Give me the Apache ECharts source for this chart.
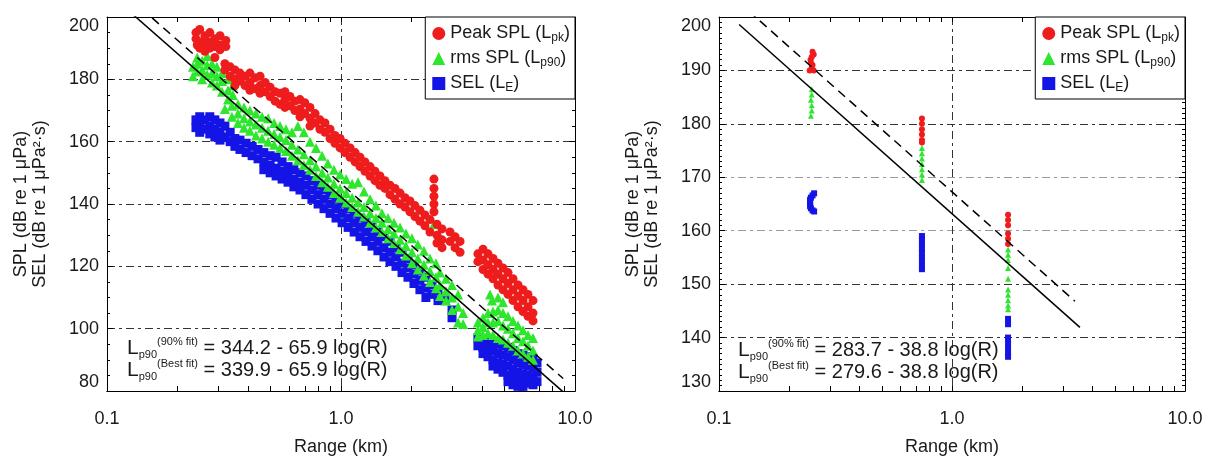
<!DOCTYPE html>
<html>
<head>
<meta charset="utf-8">
<script src="https://cdn.jsdelivr.net/npm/echarts@6/dist/echarts.min.js"></script>
<style>html,body{margin:0;padding:0;background:#fff}#c{width:1209px;height:457px}</style>
</head>
<body>
<div id="c"></div>
<script>
// ---------- data ----------
const seriesNames = ['Peak SPL', 'rms SPL', 'SEL'];
const legendLabels = ['Peak SPL (L{s|pk})', 'rms SPL (L{s|p90})', 'SEL (L{s|E})'];
const xTickValues = [0.1, 1, 10];
const xTickLabels = ['0.1', '1.0', '10.0'];
const xAllTicks = [0.1,0.2,0.3,0.4,0.5,0.6,0.7,0.8,0.9,1,2,3,4,5,6,7,8,9,10];
const yRangeLeft = [80, 200, 20];
const yRangeRight = [130, 200, 10];

// left panel (range km, dB)
const peakL = [
[0.240,193],[0.240,195],[0.243,191],[0.249,196],[0.249,192],[0.249,190],[0.262,194],[0.262,191.5],[0.262,189],
[0.275,195],[0.275,192],[0.275,190],[0.289,193],[0.289,190.5],[0.304,194],[0.304,191],[0.304,189.5],[0.322,192.5],
[0.322,190.5],[0.289,187],[0.319,185],[0.319,183],[0.336,184],[0.336,181],[0.352,183],[0.352,180],[0.352,178],
[0.370,182],[0.370,179.5],[0.389,181],[0.389,178],[0.408,182],[0.408,179],[0.408,176.5],[0.429,180.5],[0.429,177],
[0.451,181],[0.451,178],[0.451,175.5],[0.474,179],[0.474,176],[0.498,177.5],[0.498,174.5],[0.523,176],[0.523,173],
[0.549,175.5],[0.549,172],[0.576,176],[0.576,173.5],[0.576,171],[0.605,174.5],[0.605,171.5],[0.635,173],[0.635,170],
[0.668,173.5],[0.668,170.5],[0.668,168],[0.700,172.5],[0.700,169],[0.737,171],[0.737,167.5],[0.737,165],[0.775,169],
[0.775,166],[0.813,167],[0.813,164],[0.854,166],[0.854,163],[0.898,164],[0.898,161],[0.942,162],[0.942,159.5],
[0.991,161],[0.991,158],[1.040,159.5],[1.040,156.5],[1.094,158],[1.094,155],[1.149,156.5],[1.149,153.5],[1.206,155],
[1.206,152],[1.266,153.5],[1.266,150.5],[1.331,152],[1.331,149],[1.397,150.5],[1.397,147.5],[1.467,149],[1.467,146],
[1.541,147.5],[1.541,145],[1.619,146],[1.619,143],[1.701,145],[1.701,141.5],[1.788,143.5],[1.788,140],[1.877,142],
[1.877,139],[1.971,141],[1.971,137.5],[2.070,139.5],[2.070,136],[2.174,138],[2.174,134.5],[2.284,136.5],[2.284,133],
[2.400,135],[2.400,131],[2.496,148],[2.496,145],[2.496,142.5],[2.496,140],[2.496,137.5],[2.571,133.5],[2.571,130],
[2.571,127.5],[2.702,132],[2.702,128.5],[2.702,126],[2.924,131],[2.924,128],[3.072,129.5],[3.072,126],[3.227,128],
[3.227,124.5],[3.846,124],[3.846,121.5],[4.045,125.5],[4.045,122],[4.045,119],[4.249,124],[4.249,120.5],[4.249,117.5],
[4.463,122.5],[4.463,119],[4.463,116],[4.687,121],[4.687,117.5],[4.687,114],[4.924,119.5],[4.924,116],[4.924,112.5],
[5.172,118],[5.172,114.5],[5.172,111],[5.433,116],[5.433,112.5],[5.433,109],[5.707,114],[5.707,110.5],[5.707,107],
[5.995,112.5],[5.995,109],[5.995,105.5],[6.297,111],[6.297,107],[6.297,104],[6.615,109],[6.615,105],[6.615,102.5]
];
const rmsL = [
[0.233,184],[0.233,181],[0.243,187],[0.243,185],[0.243,182.5],[0.255,186],[0.255,183],[0.255,180],[0.268,187.5],
[0.268,184.5],[0.268,181.5],[0.281,185],[0.281,182],[0.281,179],[0.295,184],[0.295,181],[0.295,178],[0.310,182],
[0.310,179.5],[0.310,176],[0.329,180],[0.329,176.5],[0.329,173.5],[0.345,178],[0.345,175],[0.319,170.5],[0.342,171.5],
[0.342,168],[0.363,172],[0.363,169],[0.363,166],[0.385,171],[0.385,167.5],[0.385,164.5],[0.408,170],[0.408,166.5],
[0.408,163.5],[0.433,169],[0.433,165.5],[0.433,162],[0.460,168],[0.460,164.5],[0.460,161],[0.488,167.5],[0.488,163.5],
[0.488,160],[0.518,166],[0.518,162.5],[0.518,159],[0.549,165],[0.549,161.5],[0.549,158],[0.582,164],[0.582,160.5],
[0.582,157],[0.617,163],[0.617,159],[0.617,155.5],[0.654,165],[0.654,157.5],[0.654,154],[0.694,163],[0.694,156],
[0.694,152.5],[0.737,160],[0.737,154],[0.737,151],[0.782,158],[0.782,152],[0.782,149],[0.830,155.5],[0.830,150],
[0.830,147],[0.879,153],[0.879,148.5],[0.879,145.5],[0.933,151],[0.933,146.5],[0.933,143.5],[0.991,149.5],[0.991,145],
[0.991,142],[1.052,148],[1.052,143.5],[1.052,140.5],[1.116,146.5],[1.116,142],[1.116,139],[1.183,147],[1.183,140.5],
[1.183,137.5],[1.254,144],[1.254,139],[1.254,136],[1.331,141.5],[1.331,137],[1.331,134],[1.410,139.5],[1.410,135.5],
[1.410,132.5],[1.496,137],[1.496,134],[1.496,131],[1.588,135.5],[1.588,132],[1.588,129],[1.685,134],[1.685,130.5],
[1.685,127.5],[1.788,132.5],[1.788,128.5],[1.788,125.5],[1.895,130.5],[1.895,126.5],[1.895,123.5],[2.010,129],
[2.010,124.5],[2.010,121],[2.131,127],[2.131,122.5],[2.131,119],[2.262,125],[2.262,120.5],[2.262,117],[2.400,122.5],
[2.400,118.5],[2.400,115],[2.546,121],[2.546,116.5],[2.546,113],[2.649,118],[2.649,114],[2.649,110.5],[2.810,116],
[2.810,112],[2.810,109],[2.982,114],[2.982,110],[2.982,106],[3.164,111],[3.164,107],[3.164,102],[3.325,105],
[3.325,101.5],[2.496,133.5],[3.846,102],[3.846,99.5],[3.846,97.5],[4.045,103.5],[4.045,100.5],[4.045,98],[4.249,105],
[4.249,102],[4.249,98.5],[4.463,105.5],[4.463,102],[4.463,98],[4.687,106],[4.687,102.5],[4.687,97],[4.924,105],
[4.924,101],[4.924,96.5],[5.172,104],[5.172,100],[5.172,95.5],[5.433,102.5],[5.433,98.5],[5.433,94.5],[5.707,101],
[5.707,97],[5.707,93],[5.995,99.5],[5.995,96],[5.995,92],[6.297,98],[6.297,94.5],[6.297,91],[6.615,97],[6.615,93],
[6.615,90],[4.334,111],[4.419,109],[4.687,110],[4.924,108.5]
];
const selL = [
[0.240,167],[0.240,164.5],[0.249,168],[0.249,165.5],[0.249,163],[0.262,167],[0.262,164],[0.275,168],[0.275,165],
[0.275,162.5],[0.289,167],[0.289,164],[0.289,161.5],[0.304,166],[0.304,163],[0.304,160.5],[0.319,165],[0.319,161.5],
[0.336,163],[0.336,160],[0.352,161],[0.352,158.5],[0.370,160.5],[0.370,157.5],[0.393,159.5],[0.393,156.5],[0.417,158.5],
[0.417,155.5],[0.442,157.5],[0.442,154.5],[0.468,156.5],[0.468,153.5],[0.468,151],[0.498,155.5],[0.498,152.5],
[0.498,150],[0.528,155],[0.528,151.5],[0.528,149],[0.560,153.5],[0.560,150.5],[0.560,148],[0.594,152],[0.594,149.5],
[0.594,147],[0.629,151],[0.629,148],[0.629,145.5],[0.668,150],[0.668,147],[0.668,144.5],[0.708,149],[0.708,146],
[0.708,143],[0.751,147.5],[0.751,144.5],[0.751,141.5],[0.798,146],[0.798,143],[0.798,140],[0.846,144.5],[0.846,141.5],
[0.846,138.5],[0.898,143],[0.898,140],[0.898,137],[0.952,141.5],[0.952,138.5],[0.952,135.5],[1.011,140],[1.011,137],
[1.011,134],[1.073,138.5],[1.073,135.5],[1.073,132.5],[1.138,137],[1.138,134],[1.138,131],[1.206,135.5],[1.206,132.5],
[1.206,129.5],[1.279,134],[1.279,131],[1.279,128],[1.357,132.5],[1.357,129.5],[1.357,126.5],[1.438,131],[1.438,128],
[1.438,125],[1.526,129.5],[1.526,126],[1.526,123],[1.619,128],[1.619,124.5],[1.619,121.5],[1.718,126],[1.718,123],
[1.718,120],[1.823,124.5],[1.823,121],[1.823,118],[1.933,122.5],[1.933,119.5],[1.933,116.5],[2.050,120.5],[2.050,117.5],
[2.050,114.5],[2.174,118.5],[2.174,115.5],[2.174,112.5],[2.306,116.5],[2.306,113],[2.306,110],[2.448,114],[2.448,111],
[2.597,112],[2.597,109],[2.783,109],[2.982,106],[2.982,103.5],[3.846,97],[3.846,94.5],[4.045,96.5],[4.045,94],
[4.045,92],[4.249,96],[4.249,93.5],[4.249,91],[4.463,95.5],[4.463,93],[4.463,90],[4.463,88],[4.687,95],[4.687,92],
[4.687,89],[4.687,87],[4.924,94.5],[4.924,91.5],[4.924,88.5],[4.924,86],[5.172,94],[5.172,91],[5.172,88],[5.172,85],
[5.172,83],[5.433,93],[5.433,90],[5.433,87],[5.433,84.5],[5.433,82],[5.707,92],[5.707,89],[5.707,86],[5.707,83.5],
[5.707,81.5],[5.995,91.5],[5.995,88.5],[5.995,85.5],[5.995,83],[5.995,81.5],[6.297,91],[6.297,88],[6.297,85],
[6.297,82.5],[6.615,90.5],[6.615,87.5],[6.615,84.5],[6.615,82],[6.880,89],[6.880,86],[6.880,83]
];
// right panel (range km, dB)
const peakR = [
[0.252,193.5],[0.255,193],[0.250,192.5],[0.247,192],[0.248,191.5],[0.252,191],[0.250,190.5],[0.245,190],[0.255,190],
[0.743,181],[0.743,180],[0.743,179],[0.743,178],[0.743,177],[0.743,176.5],
[1.74,163],[1.74,162],[1.74,161],[1.74,159.5],[1.74,158.5],[1.74,157.5]
];
const rmsR = [
[0.250,186.5],[0.250,185.5],[0.248,184.5],[0.250,183.5],[0.250,182.5],[0.248,181.5],
[0.743,175.5],[0.743,174.5],[0.743,173.5],[0.743,172.5],[0.743,171.5],[0.743,170.5],[0.743,169.5],
[1.74,156.5],[1.74,155.5],[1.74,154.5],[1.74,153],[1.74,151],[1.74,149],[1.74,148],[1.74,147],[1.74,146],[1.74,145.3]
];
const selR = [
[0.256,167],[0.252,166.6],[0.248,166.2],[0.246,165.8],[0.246,165.4],[0.246,165],[0.246,164.6],[0.248,164.2],
[0.252,163.8],[0.256,163.6],
[0.743,159],[0.743,158.2],[0.743,157.4],[0.743,156.6],[0.743,155.8],[0.743,155],[0.743,154.2],[0.743,153.4],[0.743,152.8],
[1.74,143.5],[1.74,142.5],[1.74,140],[1.74,139],[1.74,138],[1.74,137],[1.74,136.4]
];
// fit lines (end points, from the printed fits)
const fit90L = [[0.1,212.4],[8.9,84.0]];
const fitBestL = [[0.1,208.1],[8.9,79.7]];
const fit90R = [[0.12,203.0],[3.37,146.8]];
const fitBestR = [[0.122,198.6],[3.54,141.9]];
const fitTextL = ['(90% fit)', '(Best fit)', ' = 344.2 - 65.9 log(R)', ' = 339.9 - 65.9 log(R)'];
const fitTextR = ['(90% fit)', '(Best fit)', ' = 283.7 - 38.8 log(R)', ' = 279.6 - 38.8 log(R)'];

// ---------- chart ----------
const FONT = 'Liberation Sans, Arial, Helvetica, sans-serif';
const TXT = '#1a1a1a';
const COLORS = {'Peak SPL':'#ee1c1c', 'rms SPL':'#2fe62f', 'SEL':'#1414e6'};
const SYMBOLS = {'Peak SPL':'circle', 'rms SPL':'triangle', 'SEL':'rect'};
const yName = 'SPL (dB re 1 \u03bcPa)\nSEL (dB re 1 \u03bcPa\u00b2\u00b7s)';
const dash = [8, 4, 3, 4];
const xTickLog = xAllTicks.map(v => Math.log10(v)); // tick positions on a log10 helper axis

function xMain(g) {
  return {
    type: 'log', logBase: 10, gridIndex: g, min: 0.1, max: 10, position: 'bottom',
    name: 'Range (km)', nameLocation: 'middle', nameGap: 47,
    nameTextStyle: {fontFamily: FONT, fontSize: 18, color: TXT},
    axisLine: {show: true, onZero: false, lineStyle: {color: '#000', width: 1}},
    axisTick: {show: false},
    axisLabel: {fontFamily: FONT, fontSize: 18, color: TXT, margin: 19,
      formatter: v => { const i = xTickValues.findIndex(t => Math.abs(t - v) / t < 1e-6); return i >= 0 ? xTickLabels[i] : ''; }},
    splitLine: {show: true, lineStyle: {color: '#333', type: dash, width: 1}}
  };
}
function xTicks(g, pos) {
  return {
    type: 'value', gridIndex: g, min: -1, max: 1, position: pos,
    axisLine: {show: true, onZero: false, lineStyle: {color: '#000', width: 1}},
    axisTick: {show: true, inside: true, length: 5, customValues: xTickLog, lineStyle: {color: '#000'}},
    axisLabel: {show: false}, splitLine: {show: false}
  };
}
function yAxisDef(g, rng, pos, minorSplit, splitColors) {
  const main = pos === 'left';
  return {
    type: 'value', gridIndex: g, position: pos, min: rng[0], max: rng[1], interval: rng[2],
    name: main ? yName : '', nameLocation: 'middle', nameGap: 57, nameRotate: 90,
    nameTextStyle: {fontFamily: FONT, fontSize: 18, color: TXT, lineHeight: 19, align: 'center'},
    axisLine: {show: true, onZero: false, lineStyle: {color: '#000', width: 1}},
    axisTick: {show: true, inside: true, length: 6, lineStyle: {color: '#000'}},
    minorTick: {show: true, splitNumber: minorSplit, length: 3, lineStyle: {color: '#000'}},
    axisLabel: {show: main, fontFamily: FONT, fontSize: 18, color: TXT, margin: 8,
      verticalAlignMaxLabel: 'top', verticalAlignMinLabel: 'bottom'},
    splitLine: {show: main, lineStyle: {color: splitColors, type: dash, width: 1}}
  };
}
function scatter(name, data, xi, yi, size) {
  return {type: 'scatter', name, data, xAxisIndex: xi, yAxisIndex: yi, symbol: SYMBOLS[name],
    symbolSize: size, itemStyle: {color: COLORS[name], opacity: 1}, z: 3};
}
function fitLine(data, xi, yi, dashed) {
  return {type: 'line', data, xAxisIndex: xi, yAxisIndex: yi, symbol: 'none', clip: true, silent: true,
    lineStyle: {color: '#000', width: 1.5, type: dashed ? [9, 6] : 'solid'}, z: 4};
}
function legendDef(right) {
  return {
    orient: 'vertical', right: right, top: 17, padding: [6, 5, 5, 7], itemGap: 4,
    itemWidth: 13, itemHeight: 13, borderColor: '#000', borderWidth: 1, backgroundColor: '#fff',
    data: seriesNames.map(n => ({name: n, icon: SYMBOLS[n]})),
    formatter: n => legendLabels[seriesNames.indexOf(n)],
    textStyle: {fontFamily: FONT, fontSize: 18, color: TXT, lineHeight: 21,
      rich: {s: {fontFamily: FONT, fontSize: 12, color: TXT, lineHeight: 12, verticalAlign: 'bottom'}}}
  };
}
const fitRich = {
  L: {fontFamily: FONT, fontSize: 21, lineHeight: 24, fill: TXT},
  b: {fontFamily: FONT, fontSize: 11, lineHeight: 10, verticalAlign: 'bottom', fill: TXT},
  t: {fontFamily: FONT, fontSize: 11, lineHeight: 10, verticalAlign: 'top', fill: TXT},
  m: {fontFamily: FONT, fontSize: 20, lineHeight: 24, fill: TXT}
};
function fitText(x, y, sup, rest) {
  return {type: 'text', left: x, top: y, z: 10, silent: true,
    style: {text: '{L|L}{b|p90}{t|' + sup + '}{m|' + rest + '}', rich: fitRich, fill: TXT}};
}

const chart = echarts.init(document.getElementById('c'), null, {renderer: 'canvas'});
chart.setOption({
  animation: false,
  backgroundColor: '#fff',
  grid: [
    {left: 107, top: 17, width: 468, height: 374, outerBoundsMode: 'none', containLabel: false},
    {left: 719, top: 17, width: 466, height: 374, outerBoundsMode: 'none', containLabel: false}
  ],
  xAxis: [xMain(0), xTicks(0, 'top'), xTicks(0, 'bottom'), xMain(1), xTicks(1, 'top'), xTicks(1, 'bottom')],
  yAxis: [
    yAxisDef(0, yRangeLeft, 'left', 4, ['#333']),
    yAxisDef(0, yRangeLeft, 'right', 4, ['#333']),
    yAxisDef(1, yRangeRight, 'left', 10, ['#333','#333','#333','#9a9a9a','#9a9a9a','#333','#333','#333']),
    yAxisDef(1, yRangeRight, 'right', 10, ['#333'])
  ],
  legend: [legendDef(1209 - 575), legendDef(1209 - 1185)],
  series: [
    scatter('SEL', selL, 0, 0, 9),
    scatter('rms SPL', rmsL, 0, 0, 10),
    scatter('Peak SPL', peakL, 0, 0, 9),
    fitLine(fit90L, 0, 0, true),
    fitLine(fitBestL, 0, 0, false),
    scatter('SEL', selR, 3, 2, 6),
    scatter('rms SPL', rmsR, 3, 2, 6),
    scatter('Peak SPL', peakR, 3, 2, 6),
    fitLine(fit90R, 3, 2, true),
    fitLine(fitBestR, 3, 2, false)
  ],
  graphic: [
    fitText(127, 336, fitTextL[0], fitTextL[2]),
    fitText(127, 358, fitTextL[1], fitTextL[3]),
    fitText(738, 338, fitTextR[0], fitTextR[2]),
    fitText(738, 360, fitTextR[1], fitTextR[3])
  ]
});
</script>
</body>
</html>
